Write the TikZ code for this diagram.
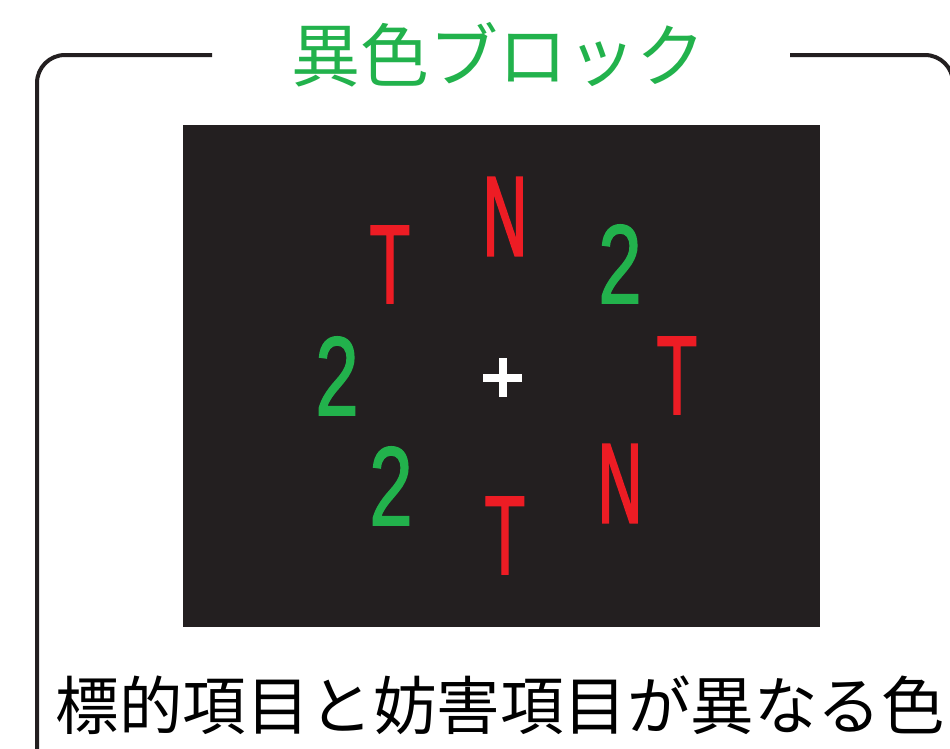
\documentclass[tikz,border=0pt]{standalone}
\usepackage{fontspec}
\usepackage{graphicx}
\setmainfont{Liberation Sans}
\newfontfamily\cjk{Noto Sans CJK JP}
\newfontfamily\lettera[FakeBold=1.5]{Liberation Sans}
\newfontfamily\letterb[FakeBold=3]{Liberation Sans}
\definecolor{frameblack}{HTML}{231F20}
\definecolor{itemred}{HTML}{ED1C24}
\definecolor{itemgreen}{HTML}{22B24C}
\tikzset{
  frameline/.style={draw=frameblack,line width=4pt,rounded corners=28pt},
  letter/.style={inner sep=0pt,anchor=base,font=\lettera\fontsize{112}{112}\selectfont},
  redT/.style={letter,text=itemred},
  redN/.style={letter,text=itemred,font=\letterb\fontsize{112}{112}\selectfont},
  green2/.style={letter,text=itemgreen},
}
\newcommand{\narrowT}{\scalebox{0.60}[1]{T}}
\newcommand{\narrowN}{\scalebox{0.54}[1]{N}}
\newcommand{\narrowTwo}{\scalebox{0.70}[1]{2}}
\begin{document}
\begin{tikzpicture}[x=1pt,y=-1pt]
\useasboundingbox (0,0) rectangle (950,748);
\clip (0,0) rectangle (950,748);
\fill[white] (0,0) rectangle (950,748);
% frame
\draw[frameline] (212,55) -| (37,790);
\draw[frameline] (790,55) -| (953,790);
% title
\node[inner sep=0pt,text=itemgreen,font=\cjk\fontsize{69}{69}\selectfont] (title) at (498,55) {異色ブロック};
% display
\fill[frameblack] (183,125) rectangle (820,627);
% items (anchored at baseline centre)
\node[redT] (t1) at (390,303) {\narrowT};
\node[redN] (n1) at (505,255) {\narrowN};
\node[green2] (g1) at (620,303) {\narrowTwo};
\node[green2] (g2) at (337,415) {\narrowTwo};
\node[redT] (t2) at (677,414) {\narrowT};
\node[green2] (g3) at (391,525) {\narrowTwo};
\node[redN] (n2) at (620,522) {\narrowN};
\node[redT] (t3) at (505,574) {\narrowT};
% fixation cross
\fill[white] (483,373.5) rectangle (522,381.5);
\fill[white] (498.5,358) rectangle (506.5,397);
% caption
\node[inner sep=0pt,text=black,font=\cjk\fontsize{63.5}{63.5}\selectfont] (caption) at (500,705) {標的項目と妨害項目が異なる色};
\end{tikzpicture}
\end{document}
